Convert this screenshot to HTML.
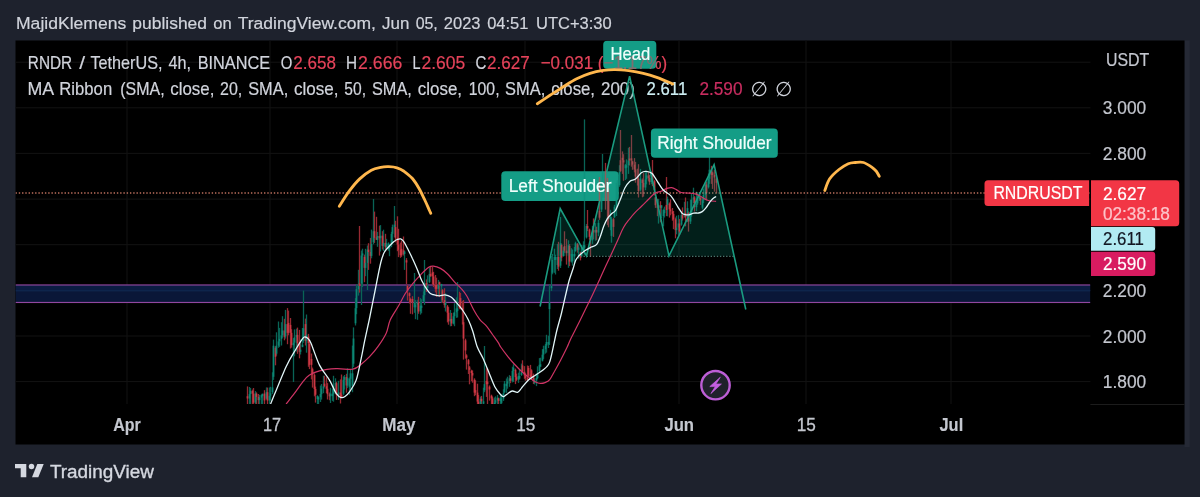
<!DOCTYPE html>
<html lang="en"><head><meta charset="utf-8"><title>RNDR / TetherUS chart - TradingView</title>
<style>html,body{margin:0;padding:0;background:#1e222d;width:1200px;height:497px;overflow:hidden}</style></head>
<body>
<svg width="1200" height="497" viewBox="0 0 1200 497" style="position:absolute;left:0;top:0;display:block" font-family="Liberation Sans, sans-serif">
<rect x="0" y="0" width="1200" height="497" fill="#1e222d"/>
<rect x="1184.5" y="40.5" width="5.3" height="406.5" fill="#252935"/>
<rect x="15.5" y="40.5" width="1169.0" height="404.0" fill="#000"/>
<clipPath id="pane"><rect x="15.5" y="40.5" width="1074.9" height="363.5"/></clipPath>
<g stroke="#131313" stroke-width="1">
<line x1="127" y1="40.5" x2="127" y2="404.0"/>
<line x1="270" y1="40.5" x2="270" y2="404.0"/>
<line x1="397" y1="40.5" x2="397" y2="404.0"/>
<line x1="525" y1="40.5" x2="525" y2="404.0"/>
<line x1="679" y1="40.5" x2="679" y2="404.0"/>
<line x1="806" y1="40.5" x2="806" y2="404.0"/>
<line x1="951" y1="40.5" x2="951" y2="404.0"/>
<line x1="15.5" y1="62.2" x2="1090.4" y2="62.2"/>
<line x1="15.5" y1="107.8" x2="1090.4" y2="107.8"/>
<line x1="15.5" y1="153.4" x2="1090.4" y2="153.4"/>
<line x1="15.5" y1="199.1" x2="1090.4" y2="199.1"/>
<line x1="15.5" y1="244.7" x2="1090.4" y2="244.7"/>
<line x1="15.5" y1="290.4" x2="1090.4" y2="290.4"/>
<line x1="15.5" y1="336.0" x2="1090.4" y2="336.0"/>
<line x1="15.5" y1="381.6" x2="1090.4" y2="381.6"/>
<line x1="1090.4" y1="404.5" x2="1184.5" y2="404.5" stroke="#1c1c1c"/>
</g>
<g id="legend">
<text y="69.4" font-size="18.2" fill="#d1d4dc" stroke="#d1d4dc" stroke-width="0.2"><tspan x="27.80" textLength="44.38" lengthAdjust="spacingAndGlyphs">RNDR</tspan> <tspan x="79.30" textLength="5.85" lengthAdjust="spacingAndGlyphs">/</tspan> <tspan x="90.50" textLength="72.02" lengthAdjust="spacingAndGlyphs">TetherUS,</tspan> <tspan x="168.50" textLength="22.50" lengthAdjust="spacingAndGlyphs">4h,</tspan> <tspan x="197.70" textLength="72.41" lengthAdjust="spacingAndGlyphs">BINANCE</tspan></text>
<text x="280.7" y="69.4" font-size="18.2" fill="#d1d4dc" textLength="11.57" lengthAdjust="spacingAndGlyphs" stroke="#d1d4dc" stroke-width="0.2" xml:space="preserve">O</text>
<text x="293.3" y="69.4" font-size="18.2" fill="#e5435a" textLength="42.66" lengthAdjust="spacingAndGlyphs" stroke="#e5435a" stroke-width="0.2" xml:space="preserve">2.658</text>
<text x="346.0" y="69.4" font-size="18.2" fill="#d1d4dc" textLength="11.03" lengthAdjust="spacingAndGlyphs" stroke="#d1d4dc" stroke-width="0.2" xml:space="preserve">H</text>
<text x="358.1" y="69.4" font-size="18.2" fill="#e5435a" textLength="44.26" lengthAdjust="spacingAndGlyphs" stroke="#e5435a" stroke-width="0.2" xml:space="preserve">2.666</text>
<text x="412.5" y="69.4" font-size="18.2" fill="#d1d4dc" textLength="8.02" lengthAdjust="spacingAndGlyphs" stroke="#d1d4dc" stroke-width="0.2" xml:space="preserve">L</text>
<text x="421.5" y="69.4" font-size="18.2" fill="#e5435a" textLength="43.76" lengthAdjust="spacingAndGlyphs" stroke="#e5435a" stroke-width="0.2" xml:space="preserve">2.605</text>
<text x="475.4" y="69.4" font-size="18.2" fill="#d1d4dc" textLength="10.83" lengthAdjust="spacingAndGlyphs" stroke="#d1d4dc" stroke-width="0.2" xml:space="preserve">C</text>
<text x="486.9" y="69.4" font-size="18.2" fill="#e5435a" textLength="42.76" lengthAdjust="spacingAndGlyphs" stroke="#e5435a" stroke-width="0.2" xml:space="preserve">2.627</text>
<text x="540.7" y="69.4" font-size="18.2" fill="#e5435a" textLength="126.50" lengthAdjust="spacingAndGlyphs" stroke="#e5435a" stroke-width="0.2" xml:space="preserve">−0.031 (−1.17%)</text>
<text y="94.8" font-size="18.2" fill="#d1d4dc" stroke="#d1d4dc" stroke-width="0.2"><tspan x="27.50" textLength="25.72" lengthAdjust="spacingAndGlyphs">MA</tspan> <tspan x="59.30" textLength="52.88" lengthAdjust="spacingAndGlyphs">Ribbon</tspan> <tspan x="120.20" textLength="44.47" lengthAdjust="spacingAndGlyphs">(SMA,</tspan> <tspan x="170.20" textLength="44.14" lengthAdjust="spacingAndGlyphs">close,</tspan> <tspan x="220.00" textLength="22.20" lengthAdjust="spacingAndGlyphs">20,</tspan> <tspan x="248.20" textLength="40.00" lengthAdjust="spacingAndGlyphs">SMA,</tspan> <tspan x="294.00" textLength="44.54" lengthAdjust="spacingAndGlyphs">close,</tspan> <tspan x="344.30" textLength="21.70" lengthAdjust="spacingAndGlyphs">50,</tspan> <tspan x="372.00" textLength="39.80" lengthAdjust="spacingAndGlyphs">SMA,</tspan> <tspan x="417.80" textLength="44.24" lengthAdjust="spacingAndGlyphs">close,</tspan> <tspan x="468.80" textLength="30.72" lengthAdjust="spacingAndGlyphs">100,</tspan> <tspan x="505.00" textLength="40.20" lengthAdjust="spacingAndGlyphs">SMA,</tspan> <tspan x="551.20" textLength="43.84" lengthAdjust="spacingAndGlyphs">close,</tspan> <tspan x="601.00" textLength="33.83" lengthAdjust="spacingAndGlyphs">200)</tspan></text>
<text x="646.6" y="94.8" font-size="18.2" fill="#cdeef3" textLength="40.67" lengthAdjust="spacingAndGlyphs" stroke="#cdeef3" stroke-width="0.2" xml:space="preserve">2.611</text>
<text x="699.4" y="94.8" font-size="18.2" fill="#c92d60" textLength="43.16" lengthAdjust="spacingAndGlyphs" stroke="#c92d60" stroke-width="0.2" xml:space="preserve">2.590</text>
<text x="759.1" y="95.6" font-size="20" fill="#d1d4dc" text-anchor="middle" font-family="DejaVu Sans, sans-serif" xml:space="preserve">∅</text>
<text x="783.8" y="95.6" font-size="20" fill="#d1d4dc" text-anchor="middle" font-family="DejaVu Sans, sans-serif" xml:space="preserve">∅</text>
</g>
<g clip-path="url(#pane)">
<rect x="15.5" y="285" width="1074.9" height="18" fill="#0a1738"/>
<rect x="15.5" y="285" width="1074.9" height="6" fill="#0b1c42"/>
<rect x="15.5" y="290.2" width="1074.9" height="1.2" fill="#10284f"/>
<rect x="15.5" y="284.4" width="1074.9" height="1.15" fill="#91479f"/>
<rect x="15.5" y="301.9" width="1074.9" height="1.15" fill="#91479f"/>
<g id="candles">
<rect x="246.85" y="386.4" width="1.3" height="19.6" fill="#982932"/>
<rect x="248.85" y="387.0" width="1.3" height="17.9" fill="#096456"/>
<rect x="249.85" y="388.0" width="1.3" height="17.8" fill="#096456"/>
<rect x="251.85" y="389.6" width="1.3" height="18.3" fill="#982932"/>
<rect x="252.85" y="388.0" width="1.3" height="17.4" fill="#982932"/>
<rect x="254.85" y="391.1" width="1.3" height="14.1" fill="#096456"/>
<rect x="255.85" y="392.4" width="1.3" height="15.5" fill="#982932"/>
<rect x="257.85" y="394.0" width="1.3" height="13.9" fill="#982932"/>
<rect x="258.85" y="394.9" width="1.3" height="11.2" fill="#096456"/>
<rect x="260.85" y="394.3" width="1.3" height="11.9" fill="#096456"/>
<rect x="261.85" y="395.1" width="1.3" height="12.6" fill="#096456"/>
<rect x="263.85" y="390.2" width="1.3" height="14.4" fill="#982932"/>
<rect x="265.85" y="387.4" width="1.3" height="12.2" fill="#096456"/>
<rect x="266.85" y="387.6" width="1.3" height="18.1" fill="#982932"/>
<rect x="268.85" y="387.5" width="1.3" height="16.7" fill="#096456"/>
<rect x="269.85" y="386.8" width="1.3" height="13.8" fill="#096456"/>
<rect x="271.85" y="372.3" width="1.3" height="21.7" fill="#096456"/>
<rect x="272.85" y="339.6" width="1.3" height="40.3" fill="#096456"/>
<rect x="274.85" y="346.1" width="1.3" height="19.2" fill="#982932"/>
<rect x="275.85" y="332.3" width="1.3" height="23.4" fill="#096456"/>
<rect x="277.85" y="321.5" width="1.3" height="26.3" fill="#096456"/>
<rect x="278.85" y="327.9" width="1.3" height="19.0" fill="#096456"/>
<rect x="280.85" y="322.2" width="1.3" height="23.3" fill="#096456"/>
<rect x="281.85" y="316.2" width="1.3" height="21.5" fill="#096456"/>
<rect x="283.85" y="318.8" width="1.3" height="21.5" fill="#982932"/>
<rect x="284.85" y="309.9" width="1.3" height="28.7" fill="#096456"/>
<rect x="286.85" y="308.1" width="1.3" height="36.1" fill="#982932"/>
<rect x="287.85" y="310.6" width="1.3" height="24.7" fill="#982932"/>
<rect x="289.85" y="318.0" width="1.3" height="30.5" fill="#982932"/>
<rect x="290.85" y="329.2" width="1.3" height="18.4" fill="#982932"/>
<rect x="292.85" y="338.1" width="1.3" height="43.9" fill="#096456"/>
<rect x="293.85" y="329.4" width="1.3" height="26.9" fill="#096456"/>
<rect x="295.85" y="328.7" width="1.3" height="22.9" fill="#096456"/>
<rect x="296.85" y="327.6" width="1.3" height="26.2" fill="#982932"/>
<rect x="298.85" y="329.9" width="1.3" height="28.4" fill="#982932"/>
<rect x="299.85" y="339.4" width="1.3" height="15.1" fill="#096456"/>
<rect x="301.85" y="328.0" width="1.3" height="18.2" fill="#096456"/>
<rect x="302.85" y="290.6" width="1.3" height="52.2" fill="#096456"/>
<rect x="304.85" y="318.6" width="1.3" height="26.9" fill="#982932"/>
<rect x="305.85" y="314.5" width="1.3" height="38.2" fill="#096456"/>
<rect x="307.85" y="333.9" width="1.3" height="32.9" fill="#982932"/>
<rect x="308.85" y="341.9" width="1.3" height="27.2" fill="#982932"/>
<rect x="310.85" y="353.5" width="1.3" height="25.9" fill="#982932"/>
<rect x="311.85" y="367.6" width="1.3" height="20.0" fill="#982932"/>
<rect x="313.85" y="373.3" width="1.3" height="23.0" fill="#982932"/>
<rect x="314.85" y="386.6" width="1.3" height="16.0" fill="#982932"/>
<rect x="316.85" y="395.3" width="1.3" height="9.6" fill="#096456"/>
<rect x="317.85" y="396.5" width="1.3" height="8.6" fill="#096456"/>
<rect x="319.85" y="385.5" width="1.3" height="16.5" fill="#096456"/>
<rect x="320.85" y="384.0" width="1.3" height="15.6" fill="#096456"/>
<rect x="322.85" y="375.7" width="1.3" height="17.5" fill="#096456"/>
<rect x="323.85" y="375.8" width="1.3" height="11.4" fill="#982932"/>
<rect x="325.85" y="377.2" width="1.3" height="15.9" fill="#982932"/>
<rect x="326.85" y="383.1" width="1.3" height="16.4" fill="#982932"/>
<rect x="328.85" y="392.5" width="1.3" height="7.7" fill="#982932"/>
<rect x="329.85" y="387.8" width="1.3" height="15.2" fill="#096456"/>
<rect x="331.85" y="388.6" width="1.3" height="12.3" fill="#096456"/>
<rect x="332.85" y="375.8" width="1.3" height="25.9" fill="#096456"/>
<rect x="334.85" y="378.3" width="1.3" height="15.7" fill="#096456"/>
<rect x="335.85" y="381.8" width="1.3" height="18.1" fill="#982932"/>
<rect x="337.85" y="380.8" width="1.3" height="19.2" fill="#096456"/>
<rect x="339.85" y="379.4" width="1.3" height="24.1" fill="#982932"/>
<rect x="340.85" y="374.5" width="1.3" height="21.9" fill="#982932"/>
<rect x="342.85" y="376.3" width="1.3" height="18.9" fill="#096456"/>
<rect x="343.85" y="375.0" width="1.3" height="14.6" fill="#096456"/>
<rect x="345.85" y="373.8" width="1.3" height="18.9" fill="#982932"/>
<rect x="346.85" y="368.3" width="1.3" height="19.8" fill="#096456"/>
<rect x="348.85" y="377.4" width="1.3" height="17.4" fill="#096456"/>
<rect x="349.85" y="369.5" width="1.3" height="19.4" fill="#096456"/>
<rect x="351.85" y="345.6" width="1.3" height="46.6" fill="#096456"/>
<rect x="352.85" y="327.4" width="1.3" height="39.5" fill="#096456"/>
<rect x="354.85" y="298.1" width="1.3" height="27.4" fill="#096456"/>
<rect x="355.85" y="284.3" width="1.3" height="29.9" fill="#096456"/>
<rect x="357.85" y="269.8" width="1.3" height="25.8" fill="#096456"/>
<rect x="358.85" y="226.0" width="1.3" height="66.6" fill="#982932"/>
<rect x="360.85" y="250.5" width="1.3" height="54.5" fill="#096456"/>
<rect x="361.85" y="248.7" width="1.3" height="38.4" fill="#096456"/>
<rect x="363.85" y="254.6" width="1.3" height="27.6" fill="#982932"/>
<rect x="364.85" y="248.8" width="1.3" height="27.4" fill="#096456"/>
<rect x="366.85" y="245.5" width="1.3" height="44.5" fill="#096456"/>
<rect x="367.85" y="243.2" width="1.3" height="26.7" fill="#982932"/>
<rect x="369.85" y="237.9" width="1.3" height="25.8" fill="#982932"/>
<rect x="370.85" y="229.6" width="1.3" height="28.7" fill="#096456"/>
<rect x="372.85" y="199.0" width="1.3" height="45.3" fill="#096456"/>
<rect x="373.85" y="211.6" width="1.3" height="31.3" fill="#982932"/>
<rect x="375.85" y="216.8" width="1.3" height="22.4" fill="#982932"/>
<rect x="376.85" y="231.9" width="1.3" height="14.9" fill="#096456"/>
<rect x="378.85" y="225.7" width="1.3" height="29.9" fill="#982932"/>
<rect x="379.85" y="225.1" width="1.3" height="26.4" fill="#096456"/>
<rect x="381.85" y="231.2" width="1.3" height="18.3" fill="#982932"/>
<rect x="382.85" y="229.7" width="1.3" height="21.2" fill="#096456"/>
<rect x="384.85" y="233.8" width="1.3" height="15.5" fill="#982932"/>
<rect x="385.85" y="238.8" width="1.3" height="10.8" fill="#096456"/>
<rect x="387.85" y="242.3" width="1.3" height="8.5" fill="#096456"/>
<rect x="388.85" y="244.0" width="1.3" height="12.2" fill="#096456"/>
<rect x="390.85" y="231.8" width="1.3" height="15.4" fill="#096456"/>
<rect x="391.85" y="224.6" width="1.3" height="19.0" fill="#096456"/>
<rect x="393.85" y="206.0" width="1.3" height="31.3" fill="#096456"/>
<rect x="394.85" y="220.8" width="1.3" height="21.5" fill="#982932"/>
<rect x="396.85" y="216.3" width="1.3" height="34.9" fill="#982932"/>
<rect x="397.85" y="228.8" width="1.3" height="28.3" fill="#982932"/>
<rect x="399.85" y="242.6" width="1.3" height="15.2" fill="#982932"/>
<rect x="400.85" y="240.5" width="1.3" height="16.4" fill="#982932"/>
<rect x="402.85" y="236.5" width="1.3" height="19.0" fill="#982932"/>
<rect x="403.85" y="250.5" width="1.3" height="19.4" fill="#096456"/>
<rect x="405.85" y="258.1" width="1.3" height="25.9" fill="#982932"/>
<rect x="406.85" y="284.7" width="1.3" height="15.9" fill="#982932"/>
<rect x="408.85" y="292.3" width="1.3" height="11.3" fill="#982932"/>
<rect x="409.85" y="297.6" width="1.3" height="16.2" fill="#982932"/>
<rect x="411.85" y="296.2" width="1.3" height="18.1" fill="#982932"/>
<rect x="413.85" y="273.0" width="1.3" height="39.8" fill="#096456"/>
<rect x="414.85" y="299.9" width="1.3" height="19.3" fill="#096456"/>
<rect x="416.85" y="299.7" width="1.3" height="20.1" fill="#096456"/>
<rect x="417.85" y="296.8" width="1.3" height="17.0" fill="#982932"/>
<rect x="419.85" y="298.1" width="1.3" height="16.5" fill="#096456"/>
<rect x="420.85" y="299.2" width="1.3" height="14.1" fill="#096456"/>
<rect x="422.85" y="291.4" width="1.3" height="10.7" fill="#096456"/>
<rect x="423.85" y="260.0" width="1.3" height="44.9" fill="#096456"/>
<rect x="425.85" y="279.4" width="1.3" height="12.5" fill="#982932"/>
<rect x="426.85" y="275.3" width="1.3" height="14.6" fill="#096456"/>
<rect x="428.85" y="267.4" width="1.3" height="15.7" fill="#096456"/>
<rect x="429.85" y="266.6" width="1.3" height="10.1" fill="#982932"/>
<rect x="431.85" y="266.9" width="1.3" height="17.3" fill="#982932"/>
<rect x="432.85" y="271.8" width="1.3" height="15.3" fill="#982932"/>
<rect x="434.85" y="275.0" width="1.3" height="17.4" fill="#982932"/>
<rect x="435.85" y="277.7" width="1.3" height="19.2" fill="#982932"/>
<rect x="437.85" y="279.9" width="1.3" height="15.9" fill="#096456"/>
<rect x="438.85" y="281.6" width="1.3" height="15.5" fill="#982932"/>
<rect x="440.85" y="285.0" width="1.3" height="17.7" fill="#096456"/>
<rect x="441.85" y="289.1" width="1.3" height="13.9" fill="#982932"/>
<rect x="443.85" y="288.2" width="1.3" height="19.5" fill="#982932"/>
<rect x="444.85" y="293.1" width="1.3" height="18.4" fill="#096456"/>
<rect x="446.85" y="305.0" width="1.3" height="17.4" fill="#982932"/>
<rect x="447.85" y="307.1" width="1.3" height="17.6" fill="#982932"/>
<rect x="449.85" y="310.0" width="1.3" height="16.3" fill="#096456"/>
<rect x="450.85" y="312.9" width="1.3" height="13.2" fill="#982932"/>
<rect x="452.85" y="312.7" width="1.3" height="11.7" fill="#096456"/>
<rect x="453.85" y="303.2" width="1.3" height="23.0" fill="#096456"/>
<rect x="455.85" y="297.3" width="1.3" height="20.5" fill="#096456"/>
<rect x="456.85" y="282.0" width="1.3" height="35.5" fill="#096456"/>
<rect x="458.85" y="291.7" width="1.3" height="17.5" fill="#982932"/>
<rect x="459.85" y="293.0" width="1.3" height="16.4" fill="#982932"/>
<rect x="461.85" y="300.9" width="1.3" height="23.6" fill="#982932"/>
<rect x="462.85" y="300.0" width="1.3" height="59.6" fill="#982932"/>
<rect x="464.85" y="338.7" width="1.3" height="20.0" fill="#982932"/>
<rect x="465.85" y="354.2" width="1.3" height="15.4" fill="#982932"/>
<rect x="467.85" y="359.0" width="1.3" height="15.0" fill="#982932"/>
<rect x="468.85" y="365.9" width="1.3" height="18.4" fill="#982932"/>
<rect x="470.85" y="369.7" width="1.3" height="11.4" fill="#982932"/>
<rect x="471.85" y="370.4" width="1.3" height="12.3" fill="#982932"/>
<rect x="473.85" y="378.3" width="1.3" height="17.9" fill="#982932"/>
<rect x="474.85" y="380.3" width="1.3" height="14.9" fill="#982932"/>
<rect x="476.85" y="383.7" width="1.3" height="20.4" fill="#982932"/>
<rect x="477.85" y="394.9" width="1.3" height="11.3" fill="#982932"/>
<rect x="479.85" y="396.6" width="1.3" height="11.3" fill="#096456"/>
<rect x="480.85" y="395.9" width="1.3" height="11.7" fill="#982932"/>
<rect x="482.85" y="387.7" width="1.3" height="17.6" fill="#096456"/>
<rect x="483.85" y="346.0" width="1.3" height="46.2" fill="#096456"/>
<rect x="485.85" y="368.4" width="1.3" height="28.5" fill="#982932"/>
<rect x="486.85" y="368.4" width="1.3" height="36.4" fill="#982932"/>
<rect x="488.85" y="385.4" width="1.3" height="15.2" fill="#982932"/>
<rect x="490.85" y="394.7" width="1.3" height="12.1" fill="#982932"/>
<rect x="491.85" y="396.7" width="1.3" height="12.4" fill="#982932"/>
<rect x="493.85" y="397.5" width="1.3" height="8.4" fill="#096456"/>
<rect x="494.85" y="396.4" width="1.3" height="12.5" fill="#096456"/>
<rect x="496.85" y="394.9" width="1.3" height="12.9" fill="#096456"/>
<rect x="497.85" y="397.7" width="1.3" height="7.2" fill="#982932"/>
<rect x="499.85" y="395.7" width="1.3" height="9.6" fill="#096456"/>
<rect x="500.85" y="394.3" width="1.3" height="12.6" fill="#096456"/>
<rect x="502.85" y="389.3" width="1.3" height="11.6" fill="#096456"/>
<rect x="503.85" y="381.0" width="1.3" height="12.2" fill="#096456"/>
<rect x="505.85" y="378.5" width="1.3" height="14.3" fill="#096456"/>
<rect x="506.85" y="376.7" width="1.3" height="12.0" fill="#096456"/>
<rect x="508.85" y="375.1" width="1.3" height="11.7" fill="#096456"/>
<rect x="509.85" y="375.9" width="1.3" height="7.2" fill="#982932"/>
<rect x="511.85" y="366.7" width="1.3" height="15.7" fill="#096456"/>
<rect x="512.85" y="364.3" width="1.3" height="17.7" fill="#096456"/>
<rect x="514.85" y="368.6" width="1.3" height="15.5" fill="#982932"/>
<rect x="515.85" y="373.7" width="1.3" height="7.3" fill="#982932"/>
<rect x="517.85" y="372.7" width="1.3" height="10.2" fill="#096456"/>
<rect x="518.85" y="369.5" width="1.3" height="10.0" fill="#096456"/>
<rect x="520.85" y="363.6" width="1.3" height="12.3" fill="#096456"/>
<rect x="521.85" y="360.3" width="1.3" height="12.5" fill="#982932"/>
<rect x="523.85" y="366.1" width="1.3" height="12.8" fill="#982932"/>
<rect x="524.85" y="373.1" width="1.3" height="7.6" fill="#982932"/>
<rect x="526.85" y="365.5" width="1.3" height="14.6" fill="#982932"/>
<rect x="527.85" y="365.9" width="1.3" height="10.7" fill="#982932"/>
<rect x="529.85" y="364.9" width="1.3" height="10.7" fill="#982932"/>
<rect x="530.85" y="369.2" width="1.3" height="9.5" fill="#982932"/>
<rect x="532.85" y="373.6" width="1.3" height="10.4" fill="#982932"/>
<rect x="533.85" y="378.3" width="1.3" height="6.1" fill="#096456"/>
<rect x="535.85" y="373.8" width="1.3" height="12.3" fill="#096456"/>
<rect x="536.85" y="366.3" width="1.3" height="12.7" fill="#096456"/>
<rect x="538.85" y="358.1" width="1.3" height="14.2" fill="#096456"/>
<rect x="539.85" y="357.7" width="1.3" height="7.3" fill="#096456"/>
<rect x="541.85" y="349.2" width="1.3" height="12.3" fill="#096456"/>
<rect x="542.85" y="345.7" width="1.3" height="13.2" fill="#096456"/>
<rect x="544.85" y="343.9" width="1.3" height="9.7" fill="#096456"/>
<rect x="545.85" y="334.8" width="1.3" height="17.8" fill="#096456"/>
<rect x="547.85" y="335.7" width="1.3" height="12.3" fill="#096456"/>
<rect x="548.85" y="284.3" width="1.3" height="60.7" fill="#096456"/>
<rect x="550.85" y="256.0" width="1.3" height="35.0" fill="#096456"/>
<rect x="551.85" y="254.0" width="1.3" height="20.3" fill="#096456"/>
<rect x="553.85" y="248.7" width="1.3" height="24.1" fill="#096456"/>
<rect x="554.85" y="254.7" width="1.3" height="19.8" fill="#096456"/>
<rect x="556.85" y="243.9" width="1.3" height="25.1" fill="#096456"/>
<rect x="557.85" y="241.8" width="1.3" height="28.9" fill="#982932"/>
<rect x="559.85" y="217.0" width="1.3" height="51.0" fill="#096456"/>
<rect x="560.85" y="243.6" width="1.3" height="17.7" fill="#982932"/>
<rect x="562.85" y="247.1" width="1.3" height="9.6" fill="#096456"/>
<rect x="563.85" y="231.3" width="1.3" height="21.5" fill="#982932"/>
<rect x="565.85" y="238.9" width="1.3" height="25.7" fill="#982932"/>
<rect x="567.85" y="240.3" width="1.3" height="27.5" fill="#096456"/>
<rect x="568.85" y="244.1" width="1.3" height="22.0" fill="#982932"/>
<rect x="570.85" y="248.2" width="1.3" height="14.4" fill="#096456"/>
<rect x="571.85" y="249.5" width="1.3" height="16.1" fill="#096456"/>
<rect x="573.85" y="247.0" width="1.3" height="16.0" fill="#096456"/>
<rect x="574.85" y="241.7" width="1.3" height="10.1" fill="#096456"/>
<rect x="576.85" y="243.1" width="1.3" height="9.5" fill="#982932"/>
<rect x="577.85" y="245.2" width="1.3" height="13.5" fill="#096456"/>
<rect x="579.85" y="251.8" width="1.3" height="8.6" fill="#982932"/>
<rect x="580.85" y="245.0" width="1.3" height="12.3" fill="#096456"/>
<rect x="582.85" y="241.3" width="1.3" height="10.7" fill="#096456"/>
<rect x="583.85" y="119.4" width="1.3" height="135.2" fill="#096456"/>
<rect x="585.85" y="224.0" width="1.3" height="14.5" fill="#096456"/>
<rect x="586.85" y="210.0" width="1.3" height="21.1" fill="#982932"/>
<rect x="588.85" y="228.6" width="1.3" height="11.0" fill="#982932"/>
<rect x="589.85" y="236.1" width="1.3" height="20.5" fill="#982932"/>
<rect x="591.85" y="225.8" width="1.3" height="18.1" fill="#096456"/>
<rect x="592.85" y="218.4" width="1.3" height="20.8" fill="#982932"/>
<rect x="594.85" y="223.1" width="1.3" height="17.6" fill="#096456"/>
<rect x="595.85" y="226.7" width="1.3" height="13.5" fill="#982932"/>
<rect x="597.85" y="219.9" width="1.3" height="16.2" fill="#096456"/>
<rect x="598.85" y="177.0" width="1.3" height="42.8" fill="#982932"/>
<rect x="600.85" y="182.2" width="1.3" height="29.8" fill="#096456"/>
<rect x="601.85" y="154.0" width="1.3" height="43.6" fill="#096456"/>
<rect x="603.85" y="172.3" width="1.3" height="25.5" fill="#096456"/>
<rect x="604.85" y="162.9" width="1.3" height="46.7" fill="#982932"/>
<rect x="606.85" y="177.9" width="1.3" height="47.2" fill="#982932"/>
<rect x="607.85" y="188.4" width="1.3" height="38.9" fill="#982932"/>
<rect x="609.85" y="209.8" width="1.3" height="20.4" fill="#096456"/>
<rect x="610.85" y="217.2" width="1.3" height="25.5" fill="#096456"/>
<rect x="612.85" y="217.7" width="1.3" height="19.2" fill="#982932"/>
<rect x="613.85" y="204.8" width="1.3" height="13.3" fill="#096456"/>
<rect x="615.85" y="183.0" width="1.3" height="33.0" fill="#096456"/>
<rect x="616.85" y="180.3" width="1.3" height="18.0" fill="#096456"/>
<rect x="618.85" y="165.2" width="1.3" height="21.6" fill="#096456"/>
<rect x="619.85" y="130.0" width="1.3" height="42.1" fill="#982932"/>
<rect x="621.85" y="151.4" width="1.3" height="22.5" fill="#982932"/>
<rect x="622.85" y="154.2" width="1.3" height="26.6" fill="#982932"/>
<rect x="624.85" y="163.9" width="1.3" height="16.1" fill="#096456"/>
<rect x="625.85" y="159.4" width="1.3" height="19.4" fill="#096456"/>
<rect x="627.85" y="147.8" width="1.3" height="26.1" fill="#096456"/>
<rect x="628.85" y="146.9" width="1.3" height="18.6" fill="#982932"/>
<rect x="630.85" y="135.0" width="1.3" height="31.7" fill="#982932"/>
<rect x="631.85" y="160.7" width="1.3" height="9.1" fill="#982932"/>
<rect x="633.85" y="158.1" width="1.3" height="14.3" fill="#982932"/>
<rect x="634.85" y="161.9" width="1.3" height="20.8" fill="#982932"/>
<rect x="636.85" y="168.7" width="1.3" height="16.8" fill="#982932"/>
<rect x="637.85" y="164.2" width="1.3" height="33.3" fill="#982932"/>
<rect x="639.85" y="168.9" width="1.3" height="22.6" fill="#096456"/>
<rect x="641.85" y="178.4" width="1.3" height="18.9" fill="#982932"/>
<rect x="642.85" y="173.1" width="1.3" height="23.5" fill="#982932"/>
<rect x="644.85" y="172.2" width="1.3" height="18.0" fill="#096456"/>
<rect x="645.85" y="171.0" width="1.3" height="13.3" fill="#096456"/>
<rect x="647.85" y="171.7" width="1.3" height="9.1" fill="#982932"/>
<rect x="648.85" y="174.9" width="1.3" height="9.9" fill="#982932"/>
<rect x="650.85" y="171.3" width="1.3" height="12.9" fill="#096456"/>
<rect x="651.85" y="160.0" width="1.3" height="26.2" fill="#982932"/>
<rect x="653.85" y="179.9" width="1.3" height="15.6" fill="#982932"/>
<rect x="654.85" y="196.4" width="1.3" height="11.5" fill="#982932"/>
<rect x="656.85" y="198.9" width="1.3" height="17.3" fill="#982932"/>
<rect x="657.85" y="198.9" width="1.3" height="24.7" fill="#096456"/>
<rect x="659.85" y="201.2" width="1.3" height="21.1" fill="#982932"/>
<rect x="660.85" y="206.8" width="1.3" height="11.3" fill="#096456"/>
<rect x="662.85" y="208.6" width="1.3" height="17.8" fill="#096456"/>
<rect x="663.85" y="206.6" width="1.3" height="10.9" fill="#096456"/>
<rect x="665.85" y="177.0" width="1.3" height="39.1" fill="#982932"/>
<rect x="666.85" y="196.6" width="1.3" height="19.7" fill="#096456"/>
<rect x="668.85" y="202.4" width="1.3" height="15.2" fill="#982932"/>
<rect x="669.85" y="199.3" width="1.3" height="16.0" fill="#982932"/>
<rect x="671.85" y="208.0" width="1.3" height="12.7" fill="#982932"/>
<rect x="672.85" y="211.0" width="1.3" height="18.2" fill="#982932"/>
<rect x="674.85" y="217.5" width="1.3" height="20.8" fill="#982932"/>
<rect x="675.85" y="215.7" width="1.3" height="18.6" fill="#096456"/>
<rect x="677.85" y="215.1" width="1.3" height="20.6" fill="#096456"/>
<rect x="678.85" y="218.9" width="1.3" height="16.3" fill="#982932"/>
<rect x="680.85" y="211.2" width="1.3" height="14.6" fill="#096456"/>
<rect x="681.85" y="207.4" width="1.3" height="13.1" fill="#982932"/>
<rect x="683.85" y="201.8" width="1.3" height="15.6" fill="#096456"/>
<rect x="684.85" y="197.5" width="1.3" height="28.8" fill="#982932"/>
<rect x="686.85" y="201.3" width="1.3" height="20.7" fill="#096456"/>
<rect x="687.85" y="211.4" width="1.3" height="20.2" fill="#982932"/>
<rect x="689.85" y="199.7" width="1.3" height="24.3" fill="#096456"/>
<rect x="690.85" y="193.6" width="1.3" height="23.1" fill="#096456"/>
<rect x="692.85" y="187.7" width="1.3" height="15.3" fill="#096456"/>
<rect x="693.85" y="196.1" width="1.3" height="15.5" fill="#982932"/>
<rect x="695.85" y="191.7" width="1.3" height="19.4" fill="#096456"/>
<rect x="696.85" y="192.2" width="1.3" height="12.6" fill="#096456"/>
<rect x="698.85" y="192.1" width="1.3" height="8.8" fill="#096456"/>
<rect x="699.85" y="197.1" width="1.3" height="7.8" fill="#982932"/>
<rect x="701.85" y="197.0" width="1.3" height="12.3" fill="#096456"/>
<rect x="702.85" y="188.5" width="1.3" height="14.6" fill="#096456"/>
<rect x="704.85" y="181.7" width="1.3" height="18.2" fill="#096456"/>
<rect x="705.85" y="181.8" width="1.3" height="18.0" fill="#982932"/>
<rect x="707.85" y="173.5" width="1.3" height="15.0" fill="#096456"/>
<rect x="708.85" y="157.0" width="1.3" height="26.8" fill="#096456"/>
<rect x="710.85" y="165.8" width="1.3" height="18.1" fill="#982932"/>
<rect x="711.85" y="171.6" width="1.3" height="17.3" fill="#982932"/>
<rect x="713.85" y="170.0" width="1.3" height="21.7" fill="#982932"/>
<rect x="715.85" y="177.1" width="1.3" height="16.2" fill="#982932"/>
<rect x="246.65" y="396.2" width="1.7" height="2.3" fill="#ca3743"/>
<rect x="248.65" y="394.1" width="1.7" height="4.4" fill="#0c8673"/>
<rect x="249.65" y="390.7" width="1.7" height="3.4" fill="#0c8673"/>
<rect x="251.65" y="391.1" width="1.7" height="2.5" fill="#ca3743"/>
<rect x="252.65" y="393.6" width="1.7" height="9.1" fill="#ca3743"/>
<rect x="254.65" y="393.5" width="1.7" height="9.1" fill="#0c8673"/>
<rect x="255.65" y="393.7" width="1.7" height="3.2" fill="#ca3743"/>
<rect x="257.65" y="396.9" width="1.7" height="3.2" fill="#ca3743"/>
<rect x="258.65" y="397.6" width="1.7" height="2.5" fill="#0c8673"/>
<rect x="260.65" y="395.1" width="1.7" height="2.5" fill="#0c8673"/>
<rect x="261.65" y="393.6" width="1.7" height="2.5" fill="#0c8673"/>
<rect x="263.65" y="393.6" width="1.7" height="6.8" fill="#ca3743"/>
<rect x="265.65" y="392.2" width="1.7" height="6.4" fill="#0c8673"/>
<rect x="266.65" y="392.2" width="1.7" height="8.3" fill="#ca3743"/>
<rect x="268.65" y="395.8" width="1.7" height="4.7" fill="#0c8673"/>
<rect x="269.65" y="393.3" width="1.7" height="2.5" fill="#0c8673"/>
<rect x="271.65" y="387.4" width="1.7" height="4.9" fill="#0c8673"/>
<rect x="272.65" y="345.7" width="1.7" height="31.1" fill="#0c8673"/>
<rect x="274.65" y="347.7" width="1.7" height="9.1" fill="#ca3743"/>
<rect x="275.65" y="345.6" width="1.7" height="8.1" fill="#0c8673"/>
<rect x="277.65" y="341.4" width="1.7" height="4.2" fill="#0c8673"/>
<rect x="278.65" y="338.9" width="1.7" height="2.5" fill="#0c8673"/>
<rect x="280.65" y="335.3" width="1.7" height="3.6" fill="#0c8673"/>
<rect x="281.65" y="330.5" width="1.7" height="4.8" fill="#0c8673"/>
<rect x="283.65" y="330.5" width="1.7" height="6.3" fill="#ca3743"/>
<rect x="284.65" y="324.1" width="1.7" height="12.2" fill="#0c8673"/>
<rect x="286.65" y="324.1" width="1.7" height="8.7" fill="#ca3743"/>
<rect x="287.65" y="322.9" width="1.7" height="9.9" fill="#ca3743"/>
<rect x="289.65" y="324.9" width="1.7" height="7.9" fill="#ca3743"/>
<rect x="290.65" y="332.8" width="1.7" height="12.4" fill="#ca3743"/>
<rect x="292.65" y="342.7" width="1.7" height="2.5" fill="#0c8673"/>
<rect x="293.65" y="337.4" width="1.7" height="5.3" fill="#0c8673"/>
<rect x="295.65" y="334.9" width="1.7" height="2.5" fill="#0c8673"/>
<rect x="296.65" y="334.9" width="1.7" height="8.0" fill="#ca3743"/>
<rect x="298.65" y="342.8" width="1.7" height="9.0" fill="#ca3743"/>
<rect x="299.65" y="349.7" width="1.7" height="2.1" fill="#0c8673"/>
<rect x="301.65" y="344.7" width="1.7" height="2.5" fill="#0c8673"/>
<rect x="302.65" y="328.3" width="1.7" height="12.5" fill="#0c8673"/>
<rect x="304.65" y="324.1" width="1.7" height="16.7" fill="#ca3743"/>
<rect x="305.65" y="334.6" width="1.7" height="6.1" fill="#0c8673"/>
<rect x="307.65" y="336.6" width="1.7" height="6.5" fill="#ca3743"/>
<rect x="308.65" y="344.0" width="1.7" height="20.8" fill="#ca3743"/>
<rect x="310.65" y="358.9" width="1.7" height="5.9" fill="#ca3743"/>
<rect x="311.65" y="369.2" width="1.7" height="5.5" fill="#ca3743"/>
<rect x="313.65" y="375.1" width="1.7" height="13.9" fill="#ca3743"/>
<rect x="314.65" y="389.0" width="1.7" height="5.7" fill="#ca3743"/>
<rect x="316.65" y="396.1" width="1.7" height="3.0" fill="#0c8673"/>
<rect x="317.65" y="397.2" width="1.7" height="2.3" fill="#0c8673"/>
<rect x="319.65" y="394.0" width="1.7" height="3.2" fill="#0c8673"/>
<rect x="320.65" y="388.6" width="1.7" height="5.5" fill="#0c8673"/>
<rect x="322.65" y="386.3" width="1.7" height="2.3" fill="#0c8673"/>
<rect x="323.65" y="383.7" width="1.7" height="2.5" fill="#ca3743"/>
<rect x="325.65" y="386.3" width="1.7" height="2.5" fill="#ca3743"/>
<rect x="326.65" y="388.8" width="1.7" height="5.4" fill="#ca3743"/>
<rect x="328.65" y="394.2" width="1.7" height="2.1" fill="#ca3743"/>
<rect x="329.65" y="393.6" width="1.7" height="2.6" fill="#0c8673"/>
<rect x="331.65" y="393.6" width="1.7" height="2.5" fill="#0c8673"/>
<rect x="332.65" y="385.6" width="1.7" height="8.0" fill="#0c8673"/>
<rect x="334.65" y="383.1" width="1.7" height="2.5" fill="#0c8673"/>
<rect x="335.65" y="383.2" width="1.7" height="11.7" fill="#ca3743"/>
<rect x="337.65" y="392.5" width="1.7" height="2.5" fill="#0c8673"/>
<rect x="339.65" y="392.5" width="1.7" height="4.3" fill="#ca3743"/>
<rect x="340.65" y="394.7" width="1.7" height="2.5" fill="#ca3743"/>
<rect x="342.65" y="379.8" width="1.7" height="13.9" fill="#0c8673"/>
<rect x="343.65" y="377.1" width="1.7" height="2.7" fill="#0c8673"/>
<rect x="345.65" y="377.1" width="1.7" height="8.4" fill="#ca3743"/>
<rect x="346.65" y="377.9" width="1.7" height="7.6" fill="#0c8673"/>
<rect x="348.65" y="378.8" width="1.7" height="8.0" fill="#0c8673"/>
<rect x="349.65" y="373.3" width="1.7" height="5.5" fill="#0c8673"/>
<rect x="351.65" y="373.3" width="1.7" height="12.8" fill="#0c8673"/>
<rect x="352.65" y="338.5" width="1.7" height="25.2" fill="#0c8673"/>
<rect x="354.65" y="308.2" width="1.7" height="15.1" fill="#0c8673"/>
<rect x="355.65" y="289.2" width="1.7" height="18.9" fill="#0c8673"/>
<rect x="357.65" y="285.9" width="1.7" height="3.3" fill="#0c8673"/>
<rect x="358.65" y="283.4" width="1.7" height="2.5" fill="#ca3743"/>
<rect x="360.65" y="255.5" width="1.7" height="27.9" fill="#0c8673"/>
<rect x="361.65" y="253.4" width="1.7" height="2.1" fill="#0c8673"/>
<rect x="363.65" y="256.8" width="1.7" height="11.0" fill="#ca3743"/>
<rect x="364.65" y="262.9" width="1.7" height="5.0" fill="#0c8673"/>
<rect x="366.65" y="249.6" width="1.7" height="13.3" fill="#0c8673"/>
<rect x="367.65" y="249.6" width="1.7" height="2.4" fill="#ca3743"/>
<rect x="369.65" y="252.0" width="1.7" height="3.9" fill="#ca3743"/>
<rect x="370.65" y="244.0" width="1.7" height="11.9" fill="#0c8673"/>
<rect x="372.65" y="231.2" width="1.7" height="11.1" fill="#0c8673"/>
<rect x="373.65" y="231.2" width="1.7" height="6.6" fill="#ca3743"/>
<rect x="375.65" y="237.4" width="1.7" height="2.5" fill="#ca3743"/>
<rect x="376.65" y="236.0" width="1.7" height="3.9" fill="#0c8673"/>
<rect x="378.65" y="236.0" width="1.7" height="2.2" fill="#ca3743"/>
<rect x="379.65" y="235.7" width="1.7" height="2.5" fill="#0c8673"/>
<rect x="381.65" y="235.7" width="1.7" height="10.2" fill="#ca3743"/>
<rect x="382.65" y="242.9" width="1.7" height="3.0" fill="#0c8673"/>
<rect x="384.65" y="242.9" width="1.7" height="4.2" fill="#ca3743"/>
<rect x="385.65" y="243.4" width="1.7" height="3.7" fill="#0c8673"/>
<rect x="387.65" y="243.4" width="1.7" height="5.4" fill="#0c8673"/>
<rect x="388.65" y="245.0" width="1.7" height="3.6" fill="#0c8673"/>
<rect x="390.65" y="233.9" width="1.7" height="11.1" fill="#0c8673"/>
<rect x="391.65" y="227.1" width="1.7" height="6.7" fill="#0c8673"/>
<rect x="393.65" y="224.6" width="1.7" height="2.5" fill="#0c8673"/>
<rect x="394.65" y="227.1" width="1.7" height="10.6" fill="#ca3743"/>
<rect x="396.65" y="237.8" width="1.7" height="6.8" fill="#ca3743"/>
<rect x="397.65" y="244.5" width="1.7" height="5.3" fill="#ca3743"/>
<rect x="399.65" y="249.8" width="1.7" height="5.4" fill="#ca3743"/>
<rect x="400.65" y="248.8" width="1.7" height="6.5" fill="#ca3743"/>
<rect x="402.65" y="250.4" width="1.7" height="3.7" fill="#ca3743"/>
<rect x="403.65" y="251.5" width="1.7" height="2.5" fill="#0c8673"/>
<rect x="405.65" y="260.2" width="1.7" height="2.3" fill="#ca3743"/>
<rect x="406.65" y="286.0" width="1.7" height="4.7" fill="#ca3743"/>
<rect x="408.65" y="293.2" width="1.7" height="2.7" fill="#ca3743"/>
<rect x="409.65" y="298.9" width="1.7" height="3.6" fill="#ca3743"/>
<rect x="411.65" y="299.0" width="1.7" height="3.4" fill="#ca3743"/>
<rect x="413.65" y="302.5" width="1.7" height="4.8" fill="#0c8673"/>
<rect x="414.65" y="304.8" width="1.7" height="2.5" fill="#0c8673"/>
<rect x="416.65" y="302.3" width="1.7" height="2.5" fill="#0c8673"/>
<rect x="417.65" y="302.3" width="1.7" height="9.2" fill="#ca3743"/>
<rect x="419.65" y="305.6" width="1.7" height="5.8" fill="#0c8673"/>
<rect x="420.65" y="305.6" width="1.7" height="2.3" fill="#0c8673"/>
<rect x="422.65" y="295.2" width="1.7" height="6.1" fill="#0c8673"/>
<rect x="423.65" y="283.1" width="1.7" height="12.1" fill="#0c8673"/>
<rect x="425.65" y="283.1" width="1.7" height="2.5" fill="#ca3743"/>
<rect x="426.65" y="285.6" width="1.7" height="2.5" fill="#0c8673"/>
<rect x="428.65" y="273.9" width="1.7" height="8.0" fill="#0c8673"/>
<rect x="429.65" y="273.9" width="1.7" height="2.5" fill="#ca3743"/>
<rect x="431.65" y="272.5" width="1.7" height="3.8" fill="#ca3743"/>
<rect x="432.65" y="276.4" width="1.7" height="8.7" fill="#ca3743"/>
<rect x="434.65" y="285.1" width="1.7" height="3.7" fill="#ca3743"/>
<rect x="435.65" y="284.9" width="1.7" height="3.9" fill="#ca3743"/>
<rect x="437.65" y="284.8" width="1.7" height="4.0" fill="#0c8673"/>
<rect x="438.65" y="282.3" width="1.7" height="2.5" fill="#ca3743"/>
<rect x="440.65" y="283.9" width="1.7" height="2.5" fill="#0c8673"/>
<rect x="441.65" y="290.2" width="1.7" height="9.9" fill="#ca3743"/>
<rect x="443.65" y="300.1" width="1.7" height="5.0" fill="#ca3743"/>
<rect x="444.65" y="302.6" width="1.7" height="2.5" fill="#0c8673"/>
<rect x="446.65" y="306.3" width="1.7" height="6.4" fill="#ca3743"/>
<rect x="447.65" y="312.7" width="1.7" height="8.7" fill="#ca3743"/>
<rect x="449.65" y="318.9" width="1.7" height="2.5" fill="#0c8673"/>
<rect x="450.65" y="318.9" width="1.7" height="4.6" fill="#ca3743"/>
<rect x="452.65" y="316.2" width="1.7" height="7.3" fill="#0c8673"/>
<rect x="453.65" y="312.3" width="1.7" height="3.9" fill="#0c8673"/>
<rect x="455.65" y="308.4" width="1.7" height="3.9" fill="#0c8673"/>
<rect x="456.65" y="308.4" width="1.7" height="2.5" fill="#0c8673"/>
<rect x="458.65" y="305.3" width="1.7" height="2.5" fill="#ca3743"/>
<rect x="459.65" y="298.1" width="1.7" height="9.7" fill="#ca3743"/>
<rect x="461.65" y="307.8" width="1.7" height="2.5" fill="#ca3743"/>
<rect x="462.65" y="322.2" width="1.7" height="16.4" fill="#ca3743"/>
<rect x="464.65" y="340.3" width="1.7" height="10.2" fill="#ca3743"/>
<rect x="465.65" y="355.4" width="1.7" height="2.3" fill="#ca3743"/>
<rect x="467.65" y="360.2" width="1.7" height="4.1" fill="#ca3743"/>
<rect x="468.65" y="367.4" width="1.7" height="2.5" fill="#ca3743"/>
<rect x="470.65" y="370.7" width="1.7" height="2.3" fill="#ca3743"/>
<rect x="471.65" y="373.0" width="1.7" height="2.5" fill="#ca3743"/>
<rect x="473.65" y="379.7" width="1.7" height="12.9" fill="#ca3743"/>
<rect x="474.65" y="390.1" width="1.7" height="2.5" fill="#ca3743"/>
<rect x="476.65" y="392.6" width="1.7" height="9.0" fill="#ca3743"/>
<rect x="477.65" y="401.6" width="1.7" height="2.5" fill="#ca3743"/>
<rect x="479.65" y="398.8" width="1.7" height="5.3" fill="#0c8673"/>
<rect x="480.65" y="398.8" width="1.7" height="2.5" fill="#ca3743"/>
<rect x="482.65" y="401.3" width="1.7" height="2.5" fill="#0c8673"/>
<rect x="483.65" y="384.1" width="1.7" height="6.2" fill="#0c8673"/>
<rect x="485.65" y="380.9" width="1.7" height="3.3" fill="#ca3743"/>
<rect x="486.65" y="381.7" width="1.7" height="2.4" fill="#ca3743"/>
<rect x="488.65" y="386.6" width="1.7" height="2.9" fill="#ca3743"/>
<rect x="490.65" y="395.7" width="1.7" height="2.8" fill="#ca3743"/>
<rect x="491.65" y="398.5" width="1.7" height="7.9" fill="#ca3743"/>
<rect x="493.65" y="402.7" width="1.7" height="2.5" fill="#0c8673"/>
<rect x="494.65" y="400.2" width="1.7" height="2.5" fill="#0c8673"/>
<rect x="496.65" y="397.7" width="1.7" height="2.5" fill="#0c8673"/>
<rect x="497.65" y="398.3" width="1.7" height="2.6" fill="#ca3743"/>
<rect x="499.65" y="398.4" width="1.7" height="2.5" fill="#0c8673"/>
<rect x="500.65" y="398.4" width="1.7" height="4.4" fill="#0c8673"/>
<rect x="502.65" y="393.3" width="1.7" height="5.2" fill="#0c8673"/>
<rect x="503.65" y="383.7" width="1.7" height="8.6" fill="#0c8673"/>
<rect x="505.65" y="383.7" width="1.7" height="2.5" fill="#0c8673"/>
<rect x="506.65" y="381.2" width="1.7" height="2.5" fill="#0c8673"/>
<rect x="508.65" y="378.3" width="1.7" height="2.8" fill="#0c8673"/>
<rect x="509.65" y="378.3" width="1.7" height="2.5" fill="#ca3743"/>
<rect x="511.65" y="370.9" width="1.7" height="9.9" fill="#0c8673"/>
<rect x="512.65" y="367.7" width="1.7" height="3.3" fill="#0c8673"/>
<rect x="514.65" y="369.8" width="1.7" height="7.3" fill="#ca3743"/>
<rect x="515.65" y="377.2" width="1.7" height="2.5" fill="#ca3743"/>
<rect x="517.65" y="376.0" width="1.7" height="3.6" fill="#0c8673"/>
<rect x="518.65" y="376.0" width="1.7" height="2.5" fill="#0c8673"/>
<rect x="520.65" y="372.4" width="1.7" height="2.5" fill="#0c8673"/>
<rect x="521.65" y="365.4" width="1.7" height="6.3" fill="#ca3743"/>
<rect x="523.65" y="371.7" width="1.7" height="3.8" fill="#ca3743"/>
<rect x="524.65" y="375.5" width="1.7" height="2.5" fill="#ca3743"/>
<rect x="526.65" y="378.0" width="1.7" height="2.5" fill="#ca3743"/>
<rect x="527.65" y="368.0" width="1.7" height="7.7" fill="#ca3743"/>
<rect x="529.65" y="374.7" width="1.7" height="2.5" fill="#ca3743"/>
<rect x="530.65" y="370.3" width="1.7" height="6.9" fill="#ca3743"/>
<rect x="532.65" y="377.2" width="1.7" height="3.3" fill="#ca3743"/>
<rect x="533.65" y="380.5" width="1.7" height="2.4" fill="#0c8673"/>
<rect x="535.65" y="378.0" width="1.7" height="2.5" fill="#0c8673"/>
<rect x="536.65" y="373.7" width="1.7" height="4.3" fill="#0c8673"/>
<rect x="538.65" y="364.8" width="1.7" height="6.4" fill="#0c8673"/>
<rect x="539.65" y="364.3" width="1.7" height="2.5" fill="#0c8673"/>
<rect x="541.65" y="354.6" width="1.7" height="6.0" fill="#0c8673"/>
<rect x="542.65" y="349.2" width="1.7" height="5.4" fill="#0c8673"/>
<rect x="544.65" y="345.6" width="1.7" height="3.6" fill="#0c8673"/>
<rect x="545.65" y="342.0" width="1.7" height="3.6" fill="#0c8673"/>
<rect x="547.65" y="342.0" width="1.7" height="2.5" fill="#0c8673"/>
<rect x="548.65" y="302.7" width="1.7" height="6.4" fill="#0c8673"/>
<rect x="550.65" y="286.0" width="1.7" height="2.2" fill="#0c8673"/>
<rect x="551.65" y="260.0" width="1.7" height="12.7" fill="#0c8673"/>
<rect x="553.65" y="257.0" width="1.7" height="3.0" fill="#0c8673"/>
<rect x="554.65" y="257.0" width="1.7" height="2.9" fill="#0c8673"/>
<rect x="556.65" y="257.0" width="1.7" height="8.0" fill="#0c8673"/>
<rect x="557.65" y="257.0" width="1.7" height="9.7" fill="#ca3743"/>
<rect x="559.65" y="243.3" width="1.7" height="22.4" fill="#0c8673"/>
<rect x="560.65" y="245.0" width="1.7" height="12.6" fill="#ca3743"/>
<rect x="562.65" y="250.7" width="1.7" height="5.3" fill="#0c8673"/>
<rect x="563.65" y="246.1" width="1.7" height="4.6" fill="#ca3743"/>
<rect x="565.65" y="250.7" width="1.7" height="2.5" fill="#ca3743"/>
<rect x="567.65" y="245.2" width="1.7" height="7.9" fill="#0c8673"/>
<rect x="568.65" y="245.9" width="1.7" height="15.7" fill="#ca3743"/>
<rect x="570.65" y="254.1" width="1.7" height="7.4" fill="#0c8673"/>
<rect x="571.65" y="254.1" width="1.7" height="7.2" fill="#0c8673"/>
<rect x="573.65" y="254.1" width="1.7" height="2.5" fill="#0c8673"/>
<rect x="574.65" y="243.2" width="1.7" height="7.8" fill="#0c8673"/>
<rect x="576.65" y="243.9" width="1.7" height="5.9" fill="#ca3743"/>
<rect x="577.65" y="247.5" width="1.7" height="2.3" fill="#0c8673"/>
<rect x="579.65" y="252.5" width="1.7" height="5.2" fill="#ca3743"/>
<rect x="580.65" y="253.8" width="1.7" height="2.5" fill="#0c8673"/>
<rect x="582.65" y="245.2" width="1.7" height="6.0" fill="#0c8673"/>
<rect x="583.65" y="245.2" width="1.7" height="2.6" fill="#0c8673"/>
<rect x="585.65" y="226.0" width="1.7" height="11.4" fill="#0c8673"/>
<rect x="586.65" y="226.0" width="1.7" height="2.5" fill="#ca3743"/>
<rect x="588.65" y="229.5" width="1.7" height="7.3" fill="#ca3743"/>
<rect x="589.65" y="237.8" width="1.7" height="2.5" fill="#ca3743"/>
<rect x="591.65" y="232.5" width="1.7" height="7.8" fill="#0c8673"/>
<rect x="592.65" y="230.0" width="1.7" height="2.5" fill="#ca3743"/>
<rect x="594.65" y="230.0" width="1.7" height="2.5" fill="#0c8673"/>
<rect x="595.65" y="230.0" width="1.7" height="2.5" fill="#ca3743"/>
<rect x="597.65" y="222.9" width="1.7" height="9.6" fill="#0c8673"/>
<rect x="598.65" y="210.8" width="1.7" height="6.9" fill="#ca3743"/>
<rect x="600.65" y="195.2" width="1.7" height="14.4" fill="#0c8673"/>
<rect x="601.65" y="189.7" width="1.7" height="5.6" fill="#0c8673"/>
<rect x="603.65" y="177.7" width="1.7" height="11.9" fill="#0c8673"/>
<rect x="604.65" y="177.7" width="1.7" height="4.0" fill="#ca3743"/>
<rect x="606.65" y="181.7" width="1.7" height="10.7" fill="#ca3743"/>
<rect x="607.65" y="192.4" width="1.7" height="26.8" fill="#ca3743"/>
<rect x="609.65" y="216.7" width="1.7" height="2.5" fill="#0c8673"/>
<rect x="610.65" y="219.2" width="1.7" height="16.7" fill="#0c8673"/>
<rect x="612.65" y="219.2" width="1.7" height="7.7" fill="#ca3743"/>
<rect x="613.65" y="206.8" width="1.7" height="10.2" fill="#0c8673"/>
<rect x="615.65" y="191.7" width="1.7" height="15.1" fill="#0c8673"/>
<rect x="616.65" y="191.7" width="1.7" height="3.5" fill="#0c8673"/>
<rect x="618.65" y="172.1" width="1.7" height="13.0" fill="#0c8673"/>
<rect x="619.65" y="160.2" width="1.7" height="10.7" fill="#ca3743"/>
<rect x="621.65" y="157.8" width="1.7" height="2.4" fill="#ca3743"/>
<rect x="622.65" y="160.2" width="1.7" height="2.3" fill="#ca3743"/>
<rect x="624.65" y="165.2" width="1.7" height="3.1" fill="#0c8673"/>
<rect x="625.65" y="165.2" width="1.7" height="2.5" fill="#0c8673"/>
<rect x="627.65" y="160.5" width="1.7" height="4.6" fill="#0c8673"/>
<rect x="628.65" y="158.5" width="1.7" height="2.0" fill="#ca3743"/>
<rect x="630.65" y="158.3" width="1.7" height="2.2" fill="#ca3743"/>
<rect x="631.65" y="161.4" width="1.7" height="3.2" fill="#ca3743"/>
<rect x="633.65" y="164.7" width="1.7" height="4.8" fill="#ca3743"/>
<rect x="634.65" y="169.4" width="1.7" height="7.1" fill="#ca3743"/>
<rect x="636.65" y="176.5" width="1.7" height="2.5" fill="#ca3743"/>
<rect x="637.65" y="179.0" width="1.7" height="12.0" fill="#ca3743"/>
<rect x="639.65" y="178.6" width="1.7" height="11.1" fill="#0c8673"/>
<rect x="641.65" y="179.9" width="1.7" height="3.1" fill="#ca3743"/>
<rect x="642.65" y="183.0" width="1.7" height="4.4" fill="#ca3743"/>
<rect x="644.65" y="179.4" width="1.7" height="8.1" fill="#0c8673"/>
<rect x="645.65" y="175.5" width="1.7" height="3.9" fill="#0c8673"/>
<rect x="647.65" y="175.5" width="1.7" height="2.5" fill="#ca3743"/>
<rect x="648.65" y="178.0" width="1.7" height="4.1" fill="#ca3743"/>
<rect x="650.65" y="173.3" width="1.7" height="8.8" fill="#0c8673"/>
<rect x="651.65" y="173.3" width="1.7" height="6.9" fill="#ca3743"/>
<rect x="653.65" y="181.2" width="1.7" height="8.8" fill="#ca3743"/>
<rect x="654.65" y="197.3" width="1.7" height="7.9" fill="#ca3743"/>
<rect x="656.65" y="205.3" width="1.7" height="2.5" fill="#ca3743"/>
<rect x="657.65" y="205.3" width="1.7" height="2.5" fill="#0c8673"/>
<rect x="659.65" y="205.3" width="1.7" height="2.4" fill="#ca3743"/>
<rect x="660.65" y="205.2" width="1.7" height="2.5" fill="#0c8673"/>
<rect x="662.65" y="210.0" width="1.7" height="6.0" fill="#0c8673"/>
<rect x="663.65" y="210.0" width="1.7" height="3.2" fill="#0c8673"/>
<rect x="665.65" y="204.9" width="1.7" height="5.1" fill="#ca3743"/>
<rect x="666.65" y="199.0" width="1.7" height="5.9" fill="#0c8673"/>
<rect x="668.65" y="203.6" width="1.7" height="5.8" fill="#ca3743"/>
<rect x="669.65" y="209.4" width="1.7" height="2.0" fill="#ca3743"/>
<rect x="671.65" y="211.4" width="1.7" height="2.5" fill="#ca3743"/>
<rect x="672.65" y="213.9" width="1.7" height="5.5" fill="#ca3743"/>
<rect x="674.65" y="219.3" width="1.7" height="10.8" fill="#ca3743"/>
<rect x="675.65" y="227.6" width="1.7" height="2.5" fill="#0c8673"/>
<rect x="677.65" y="223.5" width="1.7" height="4.1" fill="#0c8673"/>
<rect x="678.65" y="223.5" width="1.7" height="8.0" fill="#ca3743"/>
<rect x="680.65" y="215.1" width="1.7" height="9.5" fill="#0c8673"/>
<rect x="681.65" y="215.1" width="1.7" height="3.4" fill="#ca3743"/>
<rect x="683.65" y="213.0" width="1.7" height="3.1" fill="#0c8673"/>
<rect x="684.65" y="213.0" width="1.7" height="4.5" fill="#ca3743"/>
<rect x="686.65" y="208.1" width="1.7" height="9.4" fill="#0c8673"/>
<rect x="687.65" y="213.0" width="1.7" height="8.5" fill="#ca3743"/>
<rect x="689.65" y="212.0" width="1.7" height="9.5" fill="#0c8673"/>
<rect x="690.65" y="199.6" width="1.7" height="12.4" fill="#0c8673"/>
<rect x="692.65" y="197.4" width="1.7" height="2.2" fill="#0c8673"/>
<rect x="693.65" y="197.4" width="1.7" height="9.8" fill="#ca3743"/>
<rect x="695.65" y="203.4" width="1.7" height="3.8" fill="#0c8673"/>
<rect x="696.65" y="199.1" width="1.7" height="4.3" fill="#0c8673"/>
<rect x="698.65" y="193.9" width="1.7" height="5.2" fill="#0c8673"/>
<rect x="699.65" y="197.7" width="1.7" height="2.6" fill="#ca3743"/>
<rect x="701.65" y="200.3" width="1.7" height="7.4" fill="#0c8673"/>
<rect x="702.65" y="195.1" width="1.7" height="5.2" fill="#0c8673"/>
<rect x="704.65" y="184.5" width="1.7" height="10.6" fill="#0c8673"/>
<rect x="705.65" y="184.5" width="1.7" height="8.2" fill="#ca3743"/>
<rect x="707.65" y="178.8" width="1.7" height="8.4" fill="#0c8673"/>
<rect x="708.65" y="169.7" width="1.7" height="9.1" fill="#0c8673"/>
<rect x="710.65" y="169.7" width="1.7" height="5.3" fill="#ca3743"/>
<rect x="711.65" y="172.5" width="1.7" height="2.5" fill="#ca3743"/>
<rect x="713.65" y="175.0" width="1.7" height="2.5" fill="#ca3743"/>
<rect x="715.65" y="178.4" width="1.7" height="4.4" fill="#ca3743"/>
</g>
<line x1="15.5" y1="193" x2="1090.4" y2="193" stroke="#dc826e" stroke-width="1.3" stroke-dasharray="1.4 1.87" opacity="0.85"/>
<polygon points="550.5,255.8 560.2,208.5 586.5,255.8" fill="rgba(8,153,129,0.2)"/>
<polygon points="586.5,255.8 629.6,76.1 669,255.8" fill="rgba(8,153,129,0.2)"/>
<polygon points="669,255.8 714.1,164.6 734.1,255.8" fill="rgba(8,153,129,0.2)"/>
<line x1="583.5" y1="256.3" x2="734.1" y2="256.3" stroke="#7cc7b8" stroke-opacity="0.75" stroke-width="1" stroke-dasharray="1.4 1.7"/>
<rect x="603.2" y="40.7" width="53.1" height="28" rx="4" fill="#149d86" fill-opacity="1"/>
<rect x="501.3" y="171.3" width="117.4" height="29.6" rx="4" fill="#149d86" fill-opacity="1"/>
<rect x="650.9" y="128.5" width="126.9" height="29.3" rx="4" fill="#149d86" fill-opacity="1"/>
<clipPath id="headclip"><rect x="603.2" y="40.7" width="53.1" height="28" rx="4"/></clipPath>
<g clip-path="url(#headclip)" opacity="0.5">
<text x="540.7" y="69.4" font-size="18.2" fill="#e5435a" textLength="126.50" lengthAdjust="spacingAndGlyphs" stroke="#e5435a" stroke-width="0.2" xml:space="preserve">−0.031 (−1.17%)</text>
</g>
<text x="610.4" y="59.6" font-size="17.5" fill="#f0fffc" textLength="39.81" lengthAdjust="spacingAndGlyphs" stroke="#f0fffc" stroke-width="0.2" xml:space="preserve">Head</text>
<polyline points="540.1,306.5 560.2,208.5 586.5,255.8 629.6,76.1 669,255.8 714.1,164.6 745.8,309.5" fill="none" stroke="#1a9b80" stroke-width="1.6" stroke-linejoin="miter"/>
<clipPath id="lsclip"><rect x="501.3" y="171.3" width="117.4" height="29.6" rx="4"/></clipPath>
<g clip-path="url(#lsclip)" opacity="0.6">
<rect x="583.75" y="119.4" width="1.5" height="135.2" fill="#0d907c"/>
<rect x="598.75" y="177.0" width="1.5" height="42.8" fill="#da3b48"/>
<rect x="600.75" y="182.2" width="1.5" height="29.8" fill="#0d907c"/>
<rect x="601.75" y="154.0" width="1.5" height="43.6" fill="#0d907c"/>
<rect x="603.75" y="172.3" width="1.5" height="25.5" fill="#0d907c"/>
<rect x="604.75" y="162.9" width="1.5" height="46.7" fill="#da3b48"/>
<rect x="606.75" y="177.9" width="1.5" height="47.2" fill="#da3b48"/>
<rect x="607.75" y="188.4" width="1.5" height="38.9" fill="#da3b48"/>
<rect x="615.75" y="183.0" width="1.5" height="33.0" fill="#0d907c"/>
<rect x="616.75" y="180.3" width="1.5" height="18.0" fill="#0d907c"/>
<rect x="618.75" y="165.2" width="1.5" height="21.6" fill="#0d907c"/>
<rect x="619.75" y="130.0" width="1.5" height="42.1" fill="#da3b48"/>
</g>
<text x="508.7" y="191.7" font-size="17.5" fill="#f0fffc" textLength="102.78" lengthAdjust="spacingAndGlyphs" stroke="#f0fffc" stroke-width="0.2" xml:space="preserve">Left Shoulder</text>
<text x="657.3" y="148.6" font-size="17.5" fill="#f0fffc" textLength="114.21" lengthAdjust="spacingAndGlyphs" stroke="#f0fffc" stroke-width="0.2" xml:space="preserve">Right Shoulder</text>
<path d="M286.1,404C287.5,402.2 291.6,397.1 294.4,393.4C297.2,389.7 300.3,384.9 302.8,381.8C305.3,378.8 306.7,376.9 309.5,375.1C312.3,373.3 315.1,372.0 319.5,370.9C323.9,369.8 330.6,369.0 336.2,368.7C341.8,368.4 348.7,369.9 352.9,369.2C357.1,368.4 358.4,366.3 361.2,364.2C364.0,362.1 366.8,359.6 369.6,356.7C372.4,353.8 375.1,350.6 377.9,346.7C380.7,342.8 384.1,337.8 386.2,333.3C388.2,328.9 388.2,324.5 390.2,320C392.2,315.5 395.8,310.7 398.3,306.3C400.8,301.9 403.0,297.2 405.3,293.5C407.6,289.8 409.6,287.5 412.3,284.2C415.0,280.9 419.0,276.5 421.7,273.7C424.4,270.9 426.8,268.6 428.7,267.3C430.6,266.0 431.4,265.9 433.3,266.1C435.2,266.3 438.0,267.1 440.4,268.4C442.8,269.7 445.1,271.5 447.4,273.7C449.7,275.9 452.1,279.3 454.4,281.8C456.7,284.3 459.3,286.4 461.4,288.8C463.5,291.2 464.7,292.5 466.8,296C468.9,299.5 471.7,306.1 473.8,310C475.9,313.9 477.6,316.6 479.7,319.3C481.8,322.0 484.6,323.8 486.7,326.3C488.8,328.8 490.6,331.8 492.5,334.5C494.4,337.2 496.9,340.6 498.3,342.7C499.7,344.8 499.1,344.7 500.7,347C502.3,349.3 505.4,353.4 507.7,356.3C510.0,359.2 512.4,362.0 514.7,364.5C517.0,367.0 519.4,369.4 521.7,371.5C524.0,373.6 526.4,375.6 528.7,377.3C531.0,379.1 533.8,381.0 535.7,382C537.6,383.0 538.8,383.3 540.3,383.4C541.8,383.5 543.4,383.2 545,382.6C546.6,382.0 548.1,381.6 549.7,379.7C551.3,377.8 552.6,374.6 554.4,371.5C556.1,368.4 558.1,365.1 560.2,361C562.3,356.9 565.5,350.7 567.2,347C569.0,343.3 568.6,343.4 570.7,339C572.8,334.6 576.8,327.0 580,320.5C583.2,314.0 587.0,306.2 590,300C593.0,293.8 595.5,288.3 598,283C600.5,277.7 602.7,272.6 604.8,268C606.9,263.4 608.6,260.1 610.7,255.5C612.9,250.9 615.6,245.0 617.7,240.3C619.8,235.6 621.6,231.0 623.5,227.5C625.4,224.0 627.3,221.8 629.3,219.3C631.2,216.8 633.2,214.4 635.2,212.3C637.2,210.2 639.1,208.6 641.3,206.5C643.5,204.4 646.0,201.8 648.3,199.5C650.6,197.2 653.1,194.4 655.3,193C657.4,191.6 659.2,192.1 661.2,191.3C663.2,190.5 665.2,189.0 667,188.4C668.8,187.8 670.1,187.4 671.7,187.6C673.3,187.8 674.9,188.8 676.4,189.6C677.9,190.4 678.9,191.9 681,192.5C683.1,193.1 686.8,192.9 689,193.1C691.2,193.3 692.4,193.2 694,193.6C695.6,193.9 697.0,194.5 698.5,195.2C700.0,195.9 701.6,197.1 703.2,198C704.8,198.9 706.1,199.9 708.3,200.5C710.4,201.1 714.8,201.2 716.1,201.3" fill="none" stroke="#cf3465" stroke-width="1.2"/>
<path d="M270.6,404C273.2,397.8 281.9,375.9 286.1,366.7C290.3,357.5 293.2,353.7 296,349C298.8,344.3 301.2,340.4 302.8,338.4C304.4,336.4 304.4,337.0 305.3,337C306.2,337.0 307.0,337.5 308,338.6C309.0,339.7 309.2,339.0 311.1,343.4C313.0,347.8 316.4,359.0 319.5,365.1C322.6,371.2 326.7,375.4 329.5,380.1C332.3,384.8 334.2,390.5 336.2,393.4C338.1,396.3 339.7,397.1 341.2,397.6C342.7,398.1 343.6,397.5 345,396.5C346.4,395.5 347.6,394.5 349.5,391.8C351.4,389.1 354.2,385.7 356.2,380.1C358.1,374.5 359.8,364.8 361.2,358.4C362.6,352.0 363.2,348.1 364.5,341.7C365.8,335.3 367.4,328.4 369.2,320C370.9,311.6 373.1,300.6 375,291C376.9,281.4 379.2,268.9 380.8,262.5C382.4,256.1 382.9,255.0 384.3,252.3C385.7,249.6 387.4,248.2 389,246.5C390.6,244.8 392.3,243.0 393.7,241.8C395.1,240.6 396.0,240.0 397.2,239.5C398.4,239.0 399.6,238.6 400.7,238.9C401.8,239.2 402.4,239.7 403.6,241.3C404.8,243.0 406.2,246.0 407.7,248.8C409.1,251.6 410.8,254.9 412.3,258.2C413.9,261.5 415.4,265.0 417,268.7C418.6,272.4 419.8,276.6 421.7,280.5C423.6,284.4 426.8,289.4 428.7,291.8C430.6,294.2 431.6,294.0 433.3,294.7C435.1,295.4 437.2,295.8 439.2,295.8C441.1,295.8 443.0,294.7 445,294.9C447.0,295.1 449.2,295.9 451,297C452.8,298.1 453.5,299.2 455.5,301.5C457.5,303.8 460.7,307.4 462.8,310.5C464.9,313.6 466.8,316.6 468.4,320C470.0,323.4 471.2,326.5 472.7,331C474.2,335.5 475.6,342.4 477.3,347C479.1,351.6 481.2,354.4 483.2,358.7C485.1,363.0 487.1,368.0 489,372.7C490.9,377.4 492.9,383.0 494.8,386.7C496.8,390.4 499.2,393.1 500.7,394.8C502.2,396.5 502.4,396.8 503.6,396.6C504.8,396.4 506.2,394.6 507.7,393.7C509.1,392.8 510.6,391.2 512.3,391C513.9,390.8 516.0,392.8 517.6,392.3C519.2,391.8 519.9,389.9 521.7,387.8C523.6,385.7 526.4,381.8 528.7,379.7C531.0,377.6 533.4,376.6 535.7,375C538.0,373.4 540.6,372.1 542.7,370.3C544.8,368.6 547.0,367.0 548.5,364.5C550.0,362.0 550.0,361.1 551.4,355.5C552.8,349.9 555.0,338.0 556.7,331C558.4,324.0 560.0,319.3 561.4,313.5C562.8,307.7 564.1,301.4 565.4,296C566.7,290.6 567.7,285.7 569,281C570.3,276.3 572.2,271.5 573.3,268C574.4,264.5 574.7,262.3 575.7,260.2C576.7,258.1 577.9,257.0 579.2,255.5C580.6,254.0 581.9,252.8 583.8,251.4C585.7,250.0 588.6,248.5 590.8,247.3C592.9,246.1 595.1,246.2 596.7,244.4C598.3,242.7 599.0,239.8 600.2,236.8C601.4,233.8 602.5,229.3 603.7,226.3C604.9,223.3 605.9,220.9 607.2,218.8C608.6,216.7 610.4,214.9 611.8,213.5C613.2,212.1 614.1,212.8 615.5,210.5C616.9,208.2 618.7,203.3 620.3,199.5C621.9,195.7 623.4,190.8 625,187.8C626.6,184.8 628.0,182.9 629.7,181.4C631.5,179.9 633.6,180.4 635.5,179C637.4,177.6 639.5,174.0 641.3,172.7C643.0,171.4 644.2,171.2 646,171.3C647.8,171.4 649.8,171.5 651.8,173.3C653.8,175.1 655.8,179.2 657.7,182C659.7,184.8 661.3,188.0 663.5,190.3C665.7,192.6 668.5,193.1 670.9,195.9C673.3,198.7 676.2,204.4 678.1,207.3C680.0,210.2 681.0,212.2 682.3,213.4C683.6,214.7 684.9,214.6 686,214.8C687.1,215.0 687.7,215.1 689,214.8C690.3,214.5 692.2,213.4 693.8,213.1C695.4,212.8 697.2,213.2 698.6,213C700.0,212.8 701.0,212.4 702.2,211.6C703.4,210.8 704.7,209.4 705.9,207.9C707.1,206.4 708.4,204.0 709.5,202.5C710.6,201.0 711.4,199.9 712.5,198.9C713.6,197.9 715.5,196.9 716.1,196.5" fill="none" stroke="#e2f6f9" stroke-width="1.3"/>
<path d="M339.3,206.3C340.9,203.8 345.8,195.8 349.2,191.2C352.6,186.6 356.0,182.4 359.7,178.9C363.4,175.4 367.8,172.1 371.3,170.2C374.8,168.3 377.8,167.9 380.7,167.3C383.6,166.7 386.1,166.6 388.8,166.7C391.5,166.8 394.5,167.0 397,167.8C399.5,168.6 401.5,169.6 404,171.3C406.5,173.1 409.7,175.4 412.2,178.3C414.7,181.2 417.1,185.1 419.2,188.8C421.3,192.5 423.2,196.8 425,200.5C426.8,204.2 428.7,208.9 429.7,211C430.7,213.1 430.6,212.9 430.8,213.3" fill="none" stroke="#ffb74d" stroke-width="2.85" stroke-linecap="round"/>
<path d="M537.3,103.7C539.4,102.3 545.7,98.1 550,95.3C554.3,92.5 558.8,89.5 563.3,86.7C567.8,83.9 572.2,80.9 576.7,78.7C581.2,76.5 585.6,74.7 590,73.3C594.4,71.9 599.1,71.0 603.3,70.4C607.5,69.8 611.1,69.5 615.3,69.6C619.5,69.6 624.0,70.1 628.7,70.7C633.4,71.3 638.6,72.2 643.3,73.3C648.0,74.4 652.0,75.6 656.7,77.3C661.4,79.0 668.7,82.2 671.3,83.3C673.9,84.4 672.3,83.9 672.5,84" fill="none" stroke="#ffb74d" stroke-width="2.85" stroke-linecap="round"/>
<path d="M824.8,190.5C825.6,188.6 827.3,182.3 829.7,178.8C832.1,175.3 835.9,172.0 839,169.5C842.1,167.0 845.6,164.9 848.3,163.7C851.0,162.5 852.8,162.7 855.3,162.5C857.8,162.3 860.8,161.7 863.5,162.5C866.2,163.3 869.6,165.7 871.7,167.2C873.8,168.7 875.0,169.8 876.3,171.3C877.6,172.8 878.8,175.5 879.3,176.3" fill="none" stroke="#ffb74d" stroke-width="2.85" stroke-linecap="round"/>
<circle cx="715.5" cy="385.2" r="14.2" fill="#20212b" stroke="#bd5ed6" stroke-width="2.4"/>
<path d="M720.3,377.2 L709.8,386.6 L715.3,386.6 L710.9,393.6 L721.4,384 L715.9,384 Z" fill="#c45fe0" stroke="#c45fe0" stroke-width="0.7" stroke-linejoin="round"/>
</g>
<text y="28.8" font-size="17.4" fill="#d1d4dc" stroke="#d1d4dc" stroke-width="0.2"><tspan x="16.00" textLength="110.21" lengthAdjust="spacingAndGlyphs">MajidKlemens</tspan> <tspan x="132.30" textLength="74.72" lengthAdjust="spacingAndGlyphs">published</tspan> <tspan x="213.30" textLength="18.44" lengthAdjust="spacingAndGlyphs">on</tspan> <tspan x="237.70" textLength="138.26" lengthAdjust="spacingAndGlyphs">TradingView.com,</tspan> <tspan x="382.00" textLength="27.34" lengthAdjust="spacingAndGlyphs">Jun</tspan> <tspan x="415.70" textLength="22.10" lengthAdjust="spacingAndGlyphs">05,</tspan> <tspan x="443.80" textLength="36.69" lengthAdjust="spacingAndGlyphs">2023</tspan> <tspan x="487.20" textLength="41.26" lengthAdjust="spacingAndGlyphs">04:51</tspan> <tspan x="536.00" textLength="75.71" lengthAdjust="spacingAndGlyphs">UTC+3:30</tspan></text>
<text x="1106.0" y="65.8" font-size="18.0" fill="#c4c7cf" textLength="43.24" lengthAdjust="spacingAndGlyphs" stroke="#c4c7cf" stroke-width="0.2" xml:space="preserve">USDT</text>
<text x="1102.8" y="114.3" font-size="18.0" fill="#c4c7cf" textLength="43.36" lengthAdjust="spacingAndGlyphs" stroke="#c4c7cf" stroke-width="0.2" xml:space="preserve">3.000</text>
<text x="1102.8" y="159.94000000000005" font-size="18.0" fill="#c4c7cf" textLength="43.36" lengthAdjust="spacingAndGlyphs" stroke="#c4c7cf" stroke-width="0.2" xml:space="preserve">2.800</text>
<text x="1102.8" y="296.85999999999996" font-size="18.0" fill="#c4c7cf" textLength="43.36" lengthAdjust="spacingAndGlyphs" stroke="#c4c7cf" stroke-width="0.2" xml:space="preserve">2.200</text>
<text x="1102.8" y="342.5" font-size="18.0" fill="#c4c7cf" textLength="43.36" lengthAdjust="spacingAndGlyphs" stroke="#c4c7cf" stroke-width="0.2" xml:space="preserve">2.000</text>
<text x="1102.8" y="388.14" font-size="18.0" fill="#c4c7cf" textLength="43.36" lengthAdjust="spacingAndGlyphs" stroke="#c4c7cf" stroke-width="0.2" xml:space="preserve">1.800</text>
<path d="M988,180.2 H1089.1 V205.9 H988 a3.5,3.5 0 0 1 -3.5,-3.5 V183.7 a3.5,3.5 0 0 1 3.5,-3.5 Z" fill="#f23645"/>
<path d="M1091,180.2 H1175.7 a3.5,3.5 0 0 1 3.5,3.5 V222.8 a3.5,3.5 0 0 1 -3.5,3.5 H1091 Z" fill="#f23645"/>
<path d="M1091,226.9 H1152.2 a3,3 0 0 1 3,3 V247.8 a3,3 0 0 1 -3,3 H1091 Z" fill="#b2ebf2"/>
<path d="M1091,251.8 H1152.2 a3,3 0 0 1 3,3 V273 a3,3 0 0 1 -3,3 H1091 Z" fill="#d81b60"/>
<text x="993.4" y="199.3" font-size="18.3" fill="#fff" textLength="89.02" lengthAdjust="spacingAndGlyphs" stroke="#fff" stroke-width="0.2" xml:space="preserve">RNDRUSDT</text>
<text x="1102.9" y="199.7" font-size="18.0" fill="#fff" textLength="43.26" lengthAdjust="spacingAndGlyphs" stroke="#fff" stroke-width="0.2" xml:space="preserve">2.627</text>
<text x="1102.9" y="219.9" font-size="18.0" fill="#fcc4ca" textLength="67.06" lengthAdjust="spacingAndGlyphs" stroke="#fcc4ca" stroke-width="0.2" xml:space="preserve">02:38:18</text>
<text x="1103.0" y="245.1" font-size="18.0" fill="#131722" textLength="40.97" lengthAdjust="spacingAndGlyphs" stroke="#131722" stroke-width="0.2" xml:space="preserve">2.611</text>
<text x="1103.0" y="270.1" font-size="18.0" fill="#fff" textLength="42.96" lengthAdjust="spacingAndGlyphs" stroke="#fff" stroke-width="0.2" xml:space="preserve">2.590</text>
<text x="113.3" y="431.3" font-size="18.0" fill="#c4c7cf" font-weight="700" textLength="27.53" lengthAdjust="spacingAndGlyphs" stroke="#c4c7cf" stroke-width="0.15" xml:space="preserve">Apr</text>
<text x="262.9" y="431.3" font-size="18.0" fill="#c4c7cf" textLength="18.14" lengthAdjust="spacingAndGlyphs" stroke="#c4c7cf" stroke-width="0.3" xml:space="preserve">17</text>
<text x="382.3" y="431.3" font-size="18.0" fill="#c4c7cf" font-weight="700" textLength="33.21" lengthAdjust="spacingAndGlyphs" stroke="#c4c7cf" stroke-width="0.15" xml:space="preserve">May</text>
<text x="516.2" y="431.3" font-size="18.0" fill="#c4c7cf" textLength="19.14" lengthAdjust="spacingAndGlyphs" stroke="#c4c7cf" stroke-width="0.3" xml:space="preserve">15</text>
<text x="664.4" y="431.3" font-size="18.0" fill="#c4c7cf" font-weight="700" textLength="29.66" lengthAdjust="spacingAndGlyphs" stroke="#c4c7cf" stroke-width="0.15" xml:space="preserve">Jun</text>
<text x="796.7" y="431.3" font-size="18.0" fill="#c4c7cf" textLength="19.14" lengthAdjust="spacingAndGlyphs" stroke="#c4c7cf" stroke-width="0.3" xml:space="preserve">15</text>
<text x="939.5" y="431.3" font-size="18.0" fill="#c4c7cf" font-weight="700" textLength="23.70" lengthAdjust="spacingAndGlyphs" stroke="#c4c7cf" stroke-width="0.15" xml:space="preserve">Jul</text>
<g fill="#d5d8e0"><path d="M15,464 H26.3 V477.3 H20.7 V468.3 H15 Z"/><circle cx="31.5" cy="466.4" r="2.75"/><path d="M37.3,464 H43.7 L38.3,477.3 H32 Z"/></g>
<text x="49.9" y="478.2" font-size="18.8" fill="#d5d8e0" textLength="104.07" lengthAdjust="spacingAndGlyphs" stroke="#d5d8e0" stroke-width="0.35" xml:space="preserve">TradingView</text>
</svg>
</body></html>
